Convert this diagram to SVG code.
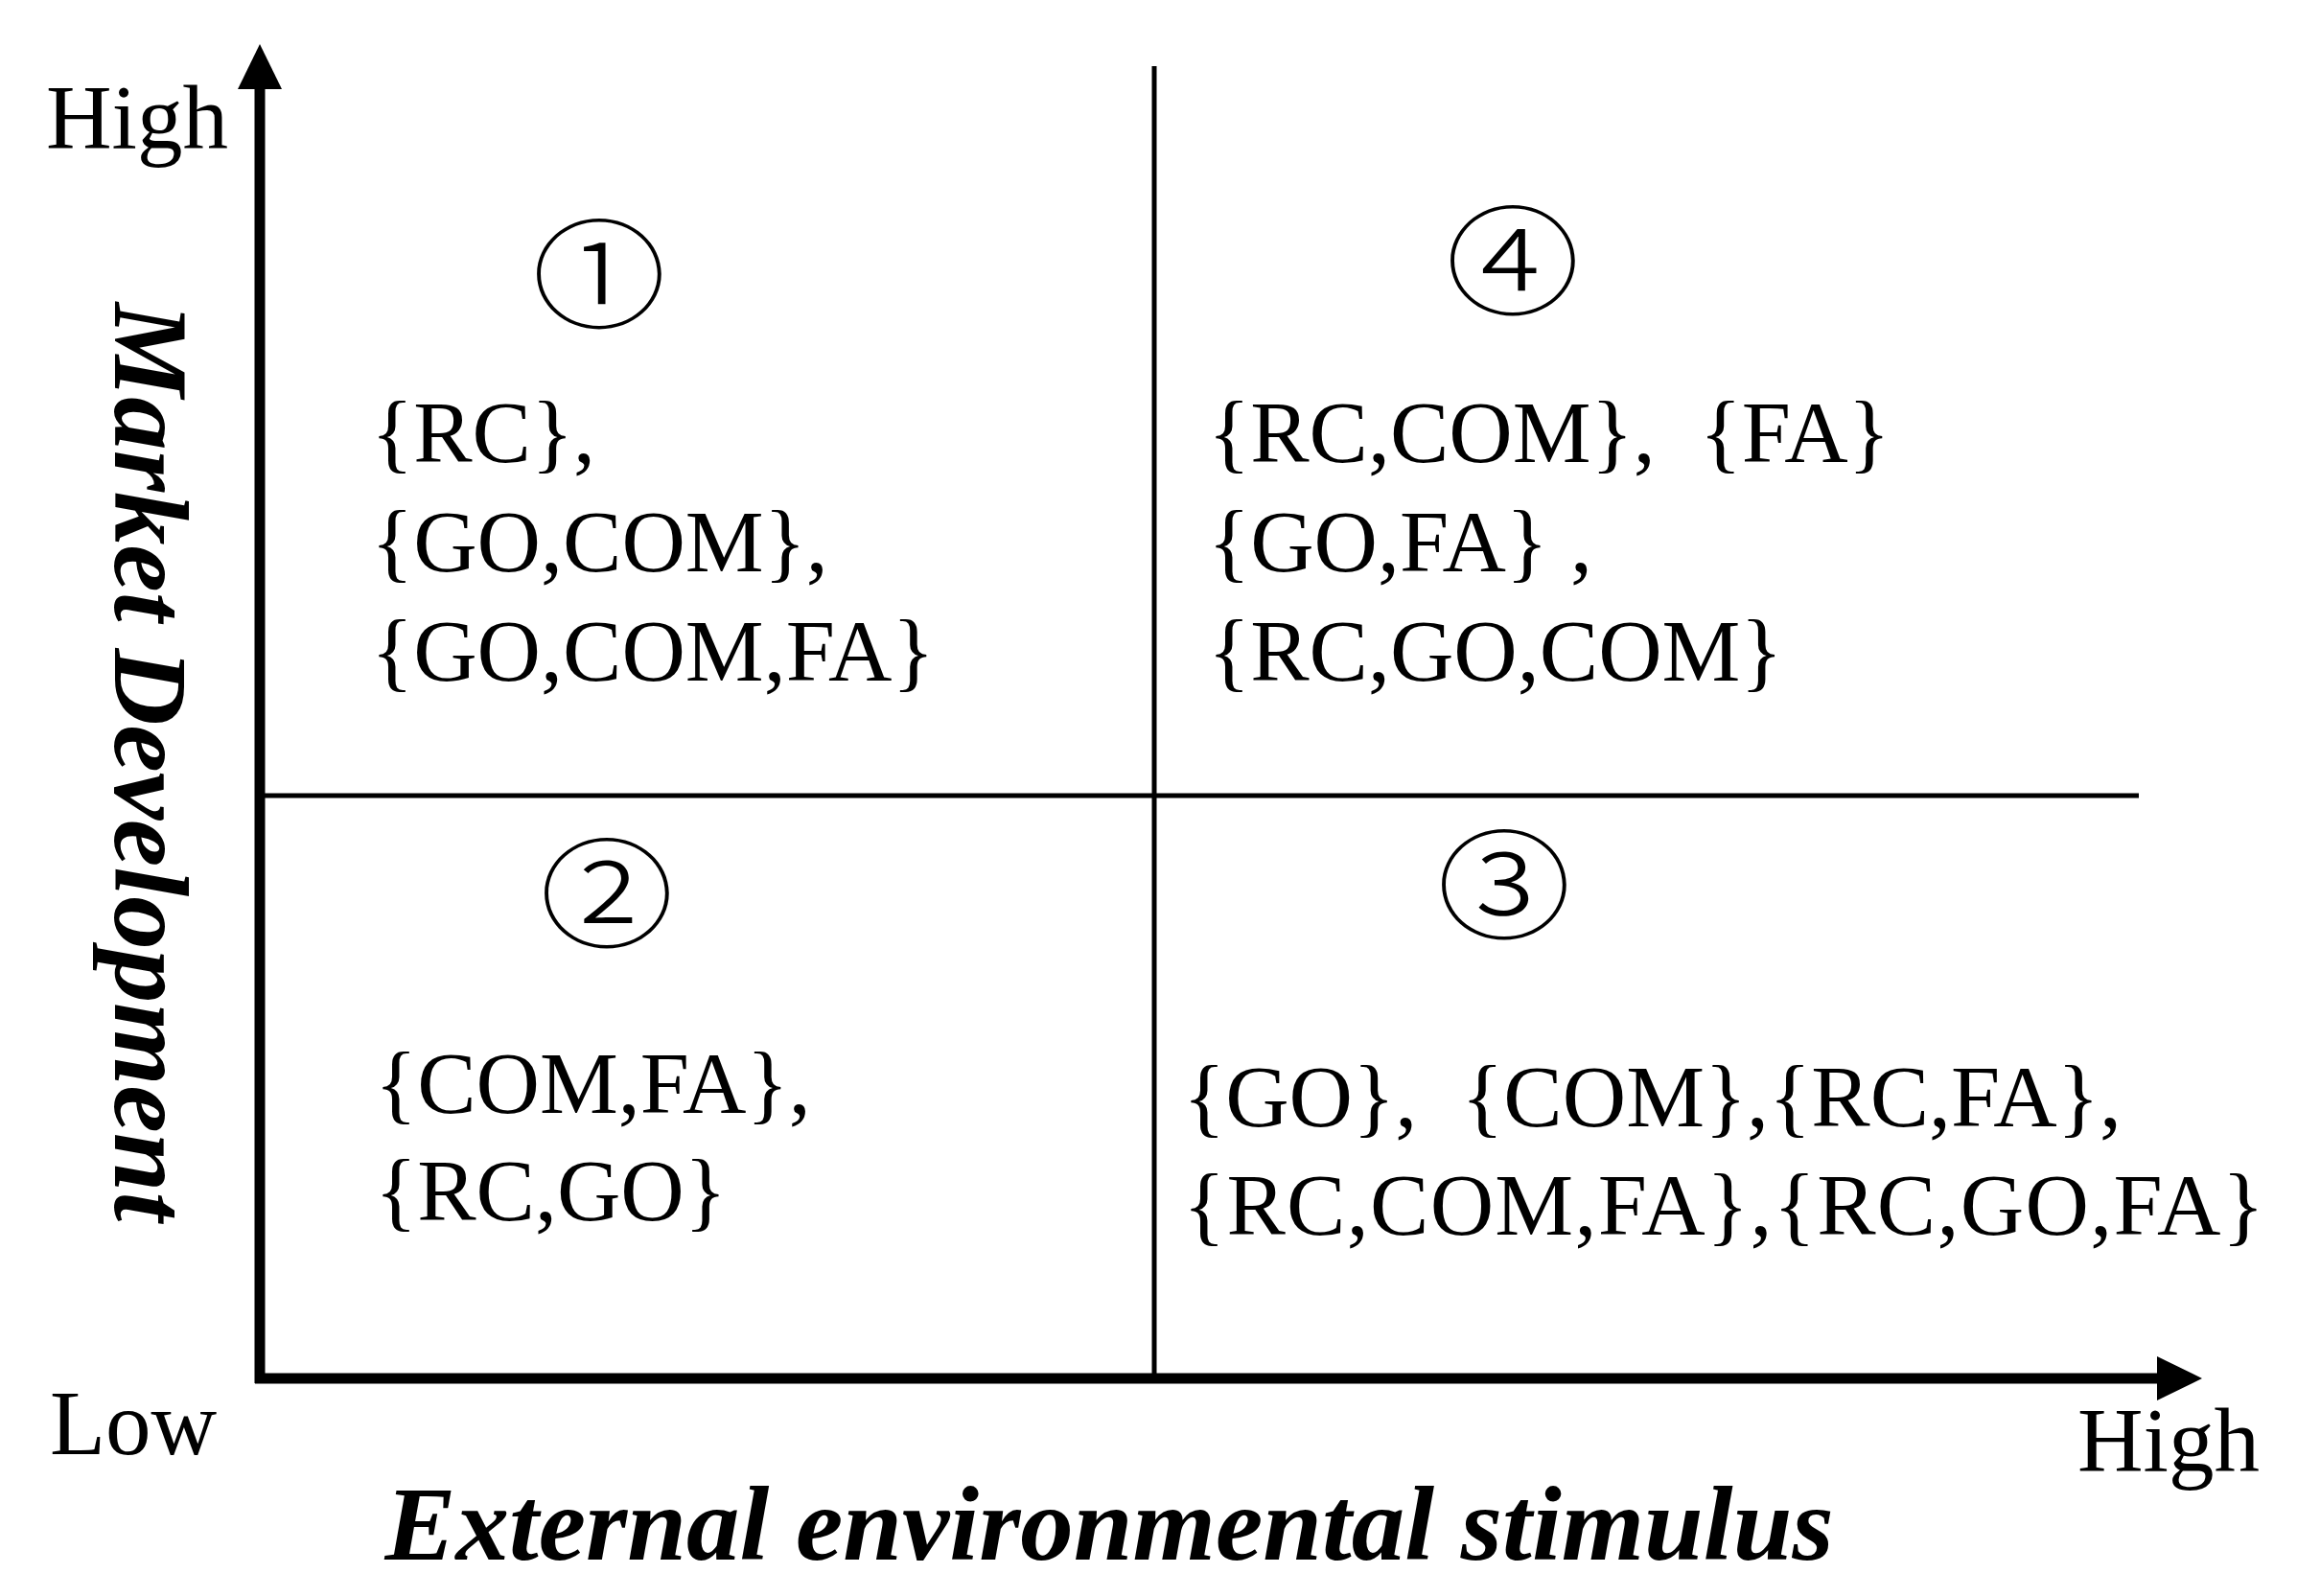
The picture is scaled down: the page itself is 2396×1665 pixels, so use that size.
<svg xmlns="http://www.w3.org/2000/svg" width="2396" height="1665" viewBox="0 0 2396 1665">
  <style>
    .lbl { font-family: "Liberation Serif", "Times New Roman", serif; font-size: 95px; fill: #000; }
    .set { font-family: "Liberation Serif", "Times New Roman", serif; font-size: 92px; fill: #000; }
    .title { font-family: "Liberation Serif", "Times New Roman", serif; font-size: 111px; font-weight: bold; font-style: italic; fill: #000; }
    .num { font-family: "Noto Sans CJK JP", "Noto Sans", sans-serif; font-size: 130px; font-weight: 300; fill: #000; text-anchor: middle; }
    .axis { stroke: #000; stroke-width: 11; fill: none; }
    .div { stroke: #000; stroke-width: 5; fill: none; }
  </style>
  <rect width="2396" height="1665" fill="#fff"/>
  <g id="connectors">
    <line class="axis" x1="271" y1="1443" x2="271" y2="90"/>
    <polygon points="271,46 248,93 294,93" fill="#000"/>
    <line class="axis" x1="266" y1="1438" x2="2253" y2="1438"/>
    <polygon points="2297,1438 2250,1415 2250,1461" fill="#000"/>
    <line class="div" x1="1204" y1="69" x2="1204" y2="1438"/>
    <line class="div" x1="271" y1="830" x2="2231" y2="830"/>
  </g>
  <g id="axis-labels">
    <text class="lbl" x="48" y="155">High</text>
    <text class="lbl" x="52" y="1517">Low</text>
    <text class="lbl" x="2167" y="1535">High</text>
    <text class="title" x="1157" y="1627" text-anchor="middle">External environmental stimulus</text>
    <text class="title" x="120" y="795" text-anchor="middle" transform="rotate(90 120 795)">Market Development</text>
  </g>
  <g id="q1">
    <text class="num" x="625" y="336" transform="translate(625 286) scale(1.08 0.95) translate(-625 -286)">①</text>
    <text class="set" x="387" y="482">{RC},</text>
    <text class="set" x="387" y="596">{GO,COM},</text>
    <text class="set" x="387" y="710">{GO,COM,FA}</text>
  </g>
  <g id="q4">
    <text class="num" x="1578" y="322" transform="translate(1578 272) scale(1.08 0.95) translate(-1578 -272)">④</text>
    <text class="set" x="1260" y="482" xml:space="preserve">{RC,COM},  {FA}</text>
    <text class="set" x="1260" y="596">{GO,FA} ,</text>
    <text class="set" x="1260" y="710">{RC,GO,COM}</text>
  </g>
  <g id="q2">
    <text class="num" x="633" y="982" transform="translate(633 932) scale(1.08 0.95) translate(-633 -932)">②</text>
    <text class="set" x="391" y="1161">{COM,FA},</text>
    <text class="set" x="391" y="1273">{RC,GO}</text>
  </g>
  <g id="q3">
    <text class="num" x="1569" y="973" transform="translate(1569 923) scale(1.08 0.95) translate(-1569 -923)">③</text>
    <text class="set" x="1234" y="1175" xml:space="preserve">{GO},  {COM},{RC,FA},</text>
    <text class="set" x="1234" y="1288" textLength="1128" lengthAdjust="spacing">{RC,COM,FA},{RC,GO,FA}</text>
  </g>
</svg>
